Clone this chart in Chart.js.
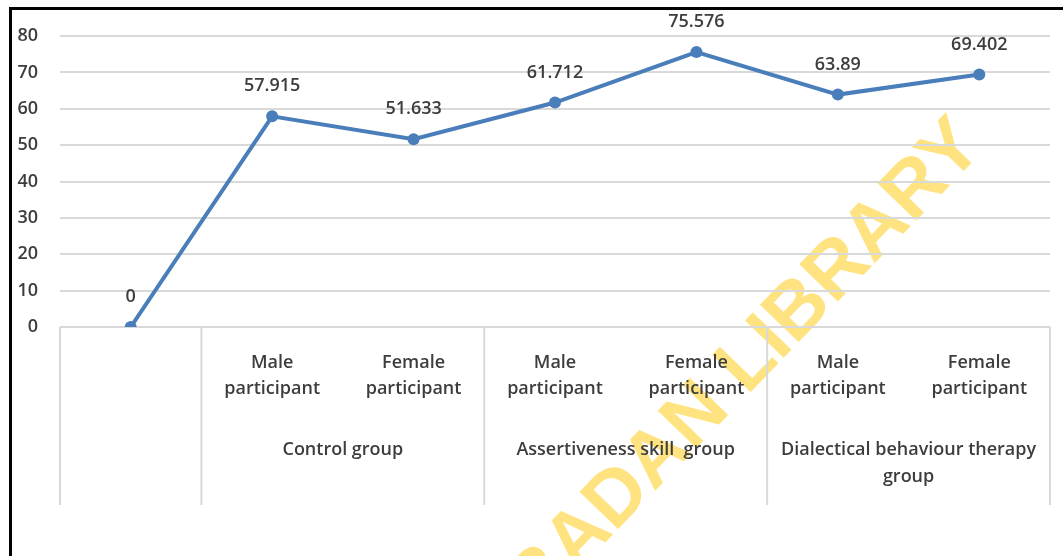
<!DOCTYPE html>
<html>
<head>
<meta charset="utf-8">
<script src="https://cdn.jsdelivr.net/npm/chart.js@4"></script>
<style>
  html, body { margin: 0; padding: 0; background: #fff; }
  canvas { display: block; }
</style>
</head>
<body>
<canvas id="chart" width="1063" height="556"></canvas>
<script>
// categories (lower level of the axis) and their groups
const categories = [
  [""],
  ["Male", "participant"],
  ["Female", "participant"],
  ["Male", "participant"],
  ["Female", "participant"],
  ["Male", "participant"],
  ["Female", "participant"],
];
const groups = [
  { label: ["Control group"], from: 1, to: 2 },
  { label: ["Assertiveness skill  group"], from: 3, to: 4 },
  { label: ["Dialectical behaviour therapy", "group"], from: 5, to: 6 },
];
const scores = [0, 57.915, 51.633, 61.712, 75.576, 63.89, 69.402];
const yTicks = { min: 0, max: 80, step: 10 };

const textColor = "#3d3d3d";
const fontFamily = "'Open Sans', 'Noto Sans', sans-serif";
const lineColor = "#4a7ebb";

// frame + watermark behind everything
const background = {
  id: "background",
  beforeDraw(chart) {
    const ctx = chart.ctx;
    ctx.save();
    ctx.fillStyle = "#fff";
    ctx.fillRect(0, 0, chart.width, chart.height);
    ctx.fillStyle = "#000";
    ctx.fillRect(9, 7, chart.width - 9, 3);
    ctx.fillRect(9, 7, 3, chart.height - 7);
    // watermark
    ctx.translate(738, 374);
    ctx.rotate(-46 * Math.PI / 180);
    ctx.fillStyle = "#ffe380";
    ctx.font = "bold 78px 'Liberation Sans', sans-serif";
    ctx.textAlign = "center";
    ctx.textBaseline = "middle";
    ctx.fillText("IBADAN LIBRARY", 0, 0);
    ctx.restore();
  },
};

// value labels above points
const valueLabels = {
  id: "valueLabels",
  afterDatasetsDraw(chart) {
    const ctx = chart.ctx;
    const meta = chart.getDatasetMeta(0);
    ctx.save();
    ctx.fillStyle = textColor;
    ctx.font = "600 18px " + fontFamily;
    ctx.textAlign = "center";
    ctx.textBaseline = "middle";
    meta.data.forEach((pt, i) => {
      ctx.fillText(String(scores[i]), pt.x, pt.y - 30);
    });
    ctx.restore();
  },
};

// group dividers and group labels under the categories
const groupAxis = {
  id: "groupAxis",
  afterDraw(chart) {
    const ctx = chart.ctx;
    const x = chart.scales.x;
    const area = chart.chartArea;
    const slot = (area.right - area.left) / categories.length;
    const top = area.bottom;
    const bottom = area.bottom + 178;
    ctx.save();
    ctx.strokeStyle = "#d9d9d9";
    ctx.lineWidth = 2;
    const edges = [area.left, area.right];
    groups.forEach((g) => edges.push(x.getPixelForValue(g.from) - slot / 2));
    edges.forEach((ex) => {
      ctx.beginPath();
      ctx.moveTo(ex, top);
      ctx.lineTo(ex, bottom);
      ctx.stroke();
    });
    ctx.fillStyle = textColor;
    ctx.font = "600 18px " + fontFamily;
    ctx.textAlign = "center";
    ctx.textBaseline = "middle";
    groups.forEach((g) => {
      const cx = (x.getPixelForValue(g.from) + x.getPixelForValue(g.to)) / 2;
      g.label.forEach((line, k) => {
        ctx.fillText(line, cx, area.bottom + 123 + k * 27);
      });
    });
    ctx.restore();
  },
};

new Chart(document.getElementById("chart"), {
  type: "line",
  data: {
    labels: categories,
    datasets: [
      {
        data: scores,
        borderColor: lineColor,
        backgroundColor: lineColor,
        borderWidth: 4,
        pointRadius: 6,
        pointHoverRadius: 6,
        pointBackgroundColor: lineColor,
        pointBorderWidth: 0,
        tension: 0,
      },
    ],
  },
  options: {
    responsive: false,
    animation: false,
    events: [],
    layout: { padding: { top: 36, right: 13, left: 0, bottom: 0 } },
    plugins: {
      legend: { display: false },
      tooltip: { enabled: false },
    },
    scales: {
      x: {
        offset: true,
        grid: { display: false },
        border: { display: false },
        ticks: {
          color: textColor,
          font: { family: fontFamily, size: 18, weight: "600", lineHeight: 1.45 },
          padding: 15,
          maxRotation: 0,
          autoSkip: false,
        },
        afterFit(scale) {
          scale.height = 229;
        },
      },
      y: {
        min: yTicks.min,
        max: yTicks.max,
        grid: { color: "#d9d9d9", lineWidth: 2, drawTicks: false },
        border: { display: false },
        ticks: {
          stepSize: yTicks.step,
          color: textColor,
          font: { family: fontFamily, size: 18, weight: "600" },
          padding: 22,
        },
        afterFit(scale) {
          scale.width = 60;
        },
      },
    },
  },
  plugins: [background, valueLabels, groupAxis],
});
</script>
</body>
</html>
